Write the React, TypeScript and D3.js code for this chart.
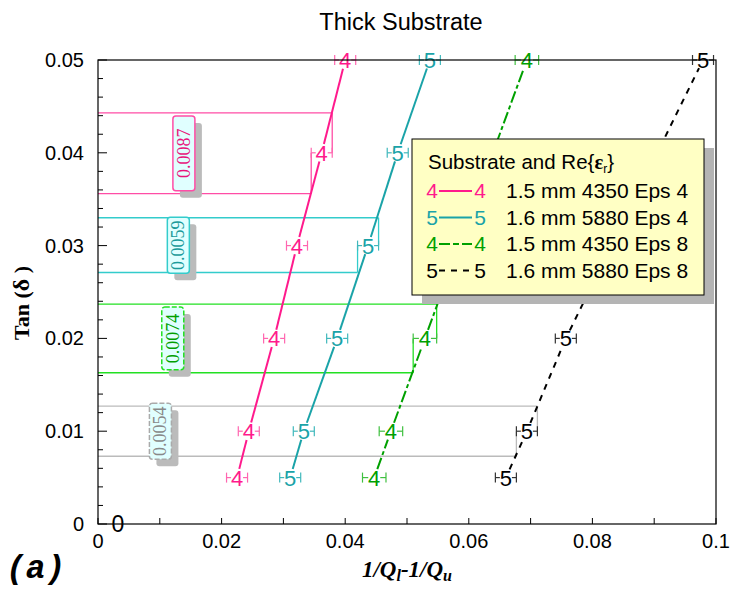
import React from "react";
import * as d3 from "d3";

// ---- data ----
const tanLevels = [0.005, 0.01, 0.02, 0.03, 0.04, 0.05];
const seriesNames = ["1.5 mm 4350 Eps 4", "1.6 mm 5880 Eps 4", "1.5 mm 4350 Eps 8", "1.6 mm 5880 Eps 8"];
const seriesSymbols = ["4", "5", "4", "5"];
// x = 1/Ql - 1/Qu for each tan level (null = hidden behind legend)
const pinkX = [0.0225, 0.0244, 0.0285, 0.0322, 0.0362, 0.0400];
const tealX = [0.0311, 0.0333, 0.0387, 0.0437, 0.0485, 0.0537];
const greenX = [0.0447, 0.0474, 0.0529, null, null, 0.0694];
const blackX = [0.0660, 0.0694, 0.0757, null, null, 0.0979];
const errX = [0.0017, 0.0017, 0.0019, 0.0017];
// uncertainty bands: [upper, lower] tan value, and the tan level of the reference point
const bandUpper = [0.0443, 0.0330, 0.0237, 0.0127];
const bandLower = [0.0356, 0.0271, 0.0163, 0.0073];
const bandPointIdx = [4, 3, 2, 1];
const bandLabels = ["0.0087", "0.0059", "0.0074", "0.0054"];
const bandLabelX = [0.0139, 0.0130, 0.0121, 0.0101];
const xTicks = [0, 0.02, 0.04, 0.06, 0.08, 0.1];
const xTickLabels = ["0", "0.02", "0.04", "0.06", "0.08", "0.1"];
const yTicks = [0, 0.01, 0.02, 0.03, 0.04, 0.05];
const yTickLabels = ["0", "0.01", "0.02", "0.03", "0.04", "0.05"];

const allX = [pinkX, tealX, greenX, blackX];
const lineColors = ["#ff1a8c", "#1aa3a8", "#00a000", "#000000"];
const errColors = ["#ff66b0", "#40b8bc", "#40c040", "#333333"];
const bandColors = ["#ff4da6", "#33cccc", "#22e022", "#bbbbbb"];
const labelColors = ["#e8147c", "#1a9a9a", "#00a000", "#888888"];
const dashes = ["none", "none", "12,3,4,3", "6,6"];
const boxDash = ["none", "none", "5,2", "5,2"];

export default function App() {
  const W = 731, H = 596;
  const x = d3.scaleLinear().domain([0, 0.1]).range([98, 716]);
  const y = d3.scaleLinear().domain([0, 0.05]).range([524, 60]);
  const sans = "'Liberation Sans', Arial, sans-serif";
  const serif = "'Liberation Serif', 'Times New Roman', serif";

  const yMinor = d3.range(0, 0.0501, 0.002);
  const xMinor = d3.range(0, 0.1001, 0.01);

  const segs = (xs: (number | null)[]) => {
    const pts = tanLevels
      .map((t, i) => (xs[i] == null ? null : [x(xs[i] as number), y(t)]))
      .filter((p) => p) as number[][];
    const out: number[][][] = [];
    for (let i = 0; i < pts.length - 1; i++) {
      const [x1, y1] = pts[i];
      const [x2, y2] = pts[i + 1];
      const dx = x2 - x1, dy = y2 - y1;
      const L = Math.hypot(dx, dy);
      const r = 9;
      out.push([
        [x1 + (dx / L) * r, y1 + (dy / L) * r],
        [x2 - (dx / L) * r, y2 - (dy / L) * r],
      ]);
    }
    return out;
  };
  const line = d3.line<number[]>().x((d) => d[0]).y((d) => d[1]);

  const legX = 412, legY = 139, legW = 292, legH = 156;

  return (
    <svg width={W} height={H} style={{ position: "absolute", left: 0, top: 0, background: "#fff" }}>
      <text x={401} y={30} textAnchor="middle" fontFamily={sans} fontSize={23.5}>Thick Substrate</text>

      {/* bands */}
      {bandUpper.map((u, i) => {
        const pIdx = bandPointIdx[i];
        const px = allX[i][pIdx] as number;
        const py = y(tanLevels[pIdx]);
        const xr = x(px + errX[i]);
        const xl = x(px - errX[i]);
        return (
          <g key={"b" + i} stroke={bandColors[i]} strokeWidth={1.3} fill="none">
            <line x1={x(0)} x2={xr} y1={y(u)} y2={y(u)} />
            <line x1={xr} x2={xr} y1={y(u)} y2={py} />
            <line x1={x(0)} x2={xl} y1={y(bandLower[i])} y2={y(bandLower[i])} />
            <line x1={xl} x2={xl} y1={y(bandLower[i])} y2={py} />
          </g>
        );
      })}

      {/* band labels */}
      {bandLabels.map((lab, i) => {
        const cy = (y(bandUpper[i]) + y(bandLower[i])) / 2;
        const span = y(bandLower[i]) - y(bandUpper[i]);
        const h = Math.max(span - 6, 56);
        const w = 22;
        const cx = x(bandLabelX[i]);
        return (
          <g key={"l" + i}>
            <rect x={cx - w / 2 + 7} y={cy - h / 2 + 7} width={w} height={h} rx={3} fill="#bbbbbb" />
            <rect x={cx - w / 2} y={cy - h / 2} width={w} height={h} rx={3} fill="#e0ffff"
              stroke={bandColors[i] === "#bbbbbb" ? "#aaaaaa" : bandColors[i]} strokeWidth={1.5} strokeDasharray={boxDash[i]} />
            <text transform={`translate(${cx + 6},${cy}) rotate(-90)`} textAnchor="middle"
              fontFamily={serif} fontSize={18} fill={labelColors[i]}>{lab}</text>
          </g>
        );
      })}

      {/* series lines */}
      {allX.map((xs, i) => (
        <g key={"s" + i}>
          {segs(xs).map((s, j) => (
            <path key={j} d={line(s) || ""} stroke={lineColors[i]} strokeWidth={2} fill="none" strokeDasharray={dashes[i]} />
          ))}
        </g>
      ))}

      {/* error bars and markers */}
      {allX.map((xs, i) => (
        <g key={"m" + i}>
          {tanLevels.map((t, j) => {
            if (xs[j] == null) return null;
            const cx = x(xs[j] as number), cy = y(t);
            const xl = x((xs[j] as number) - errX[i]), xr = x((xs[j] as number) + errX[i]);
            return (
              <g key={j}>
                <g stroke={errColors[i]} strokeWidth={1.2}>
                  <line x1={xl} x2={cx - 6} y1={cy} y2={cy} />
                  <line x1={cx + 6} x2={xr} y1={cy} y2={cy} />
                  <line x1={xl} x2={xl} y1={cy - 5} y2={cy + 5} />
                  <line x1={xr} x2={xr} y1={cy - 5} y2={cy + 5} />
                </g>
                <text x={cx} y={cy + 8} textAnchor="middle" fontFamily={sans} fontSize={22} fill={lineColors[i]}>{seriesSymbols[i]}</text>
              </g>
            );
          })}
        </g>
      ))}

      {/* origin marker */}
      <text x={x(0.0032)} y={y(0) + 8} textAnchor="middle" fontFamily={sans} fontSize={23}>0</text>

      {/* frame and ticks */}
      <rect x={x(0)} y={y(0.05)} width={x(0.1) - x(0)} height={y(0) - y(0.05)} fill="none" stroke="#000" strokeWidth={1.2} />
      {yMinor.map((t, i) => {
        const major = i % 5 === 0;
        return <line key={"yt" + i} x1={x(0)} x2={x(0) + (major ? 9 : 5)} y1={y(t)} y2={y(t)} stroke="#000" strokeWidth={1} />;
      })}
      {xMinor.map((t, i) => (
        <line key={"xt" + i} x1={x(t)} x2={x(t)} y1={y(0)} y2={y(0) - 6} stroke="#000" strokeWidth={1} />
      ))}
      {yTicks.map((t, i) => (
        <text key={"yl" + i} x={84} y={y(t) + 7} textAnchor="end" fontFamily={sans} fontSize={20}>{yTickLabels[i]}</text>
      ))}
      {xTicks.map((t, i) => (
        <text key={"xl" + i} x={x(t)} y={548} textAnchor="middle" fontFamily={sans} fontSize={20}>{xTickLabels[i]}</text>
      ))}

      {/* axis titles */}
      <text transform="translate(29,303) rotate(-90)" textAnchor="middle" fontFamily={serif} fontSize={22} fontWeight="bold">
        Tan (<tspan fontSize={24}>δ</tspan> )
      </text>
      <text x={407} y={577} textAnchor="middle" fontFamily={serif} fontSize={23} fontWeight="bold" fontStyle="italic">
        1/Q<tspan fontSize={16} dy={4}>l</tspan><tspan dy={-4}>-1/Q</tspan><tspan fontSize={16} dy={4}>u</tspan>
      </text>
      <text x={6} y={578} fontFamily="'Liberation Mono', 'Courier New', monospace" fontSize={33} fontWeight="bold" fontStyle="italic">(a)</text>

      {/* legend */}
      <rect x={legX + 10} y={legY + 9} width={legW} height={legH} fill="#b4b4b4" />
      <rect x={legX} y={legY} width={legW} height={legH} fill="#ffffc4" stroke="#000" strokeWidth={1} />
      <text x={428} y={169} fontFamily={sans} fontSize={20.5}>
        Substrate and Re{"{"}<tspan fontFamily={serif} fontWeight="bold">ε</tspan><tspan fontSize={12} dy={4}>r</tspan><tspan dy={-4}>{"}"}</tspan>
      </text>
      {seriesNames.map((n, i) => {
        const ly = 191 + i * 26.5;
        return (
          <g key={"lg" + i}>
            <text x={432} y={ly + 7} textAnchor="middle" fontFamily={sans} fontSize={21} fill={lineColors[i]}>{seriesSymbols[i]}</text>
            <line x1={439} x2={472} y1={ly} y2={ly} stroke={lineColors[i]} strokeWidth={2} strokeDasharray={i === 2 ? "11,3,6,3" : i === 3 ? "6,6" : "none"} />
            <text x={480} y={ly + 7} textAnchor="middle" fontFamily={sans} fontSize={21} fill={lineColors[i]}>{seriesSymbols[i]}</text>
            <text x={506} y={ly + 7} fontFamily={sans} fontSize={21}>{n}</text>
          </g>
        );
      })}
    </svg>
  );
}
